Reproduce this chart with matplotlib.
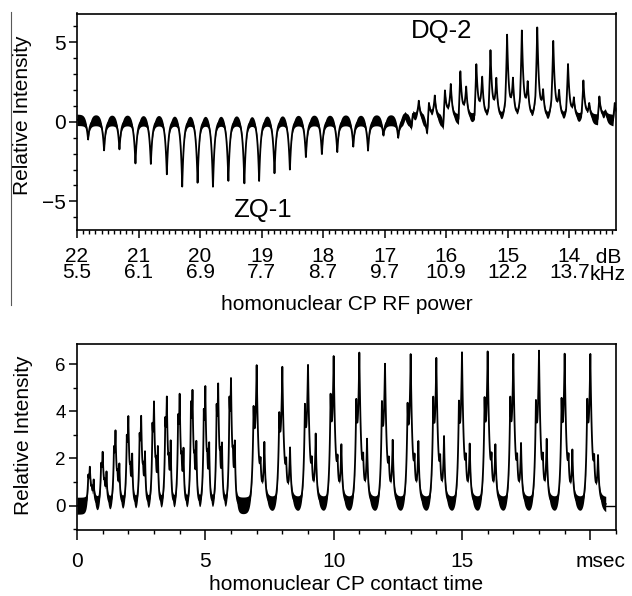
import numpy as np
import matplotlib
matplotlib.use("Agg")
import matplotlib.pyplot as plt
from matplotlib.lines import Line2D
from matplotlib.ticker import MultipleLocator, FixedLocator
from matplotlib.transforms import ScaledTranslation

plt.rcParams['font.family'] = ['Liberation Sans', 'DejaVu Sans']
plt.rcParams['path.simplify'] = False

# ---------------- data ----------------
# top panel: homonuclear CP RF power (dB), arrayed spectra
top_db_ticks = [22, 21, 20, 19, 18, 17, 16, 15, 14]
top_khz_labels = ['5.5', '6.1', '6.9', '7.7', '8.7', '9.7', '10.9', '12.2', '13.7']

zq_db = [21.82, 21.56, 21.31, 21.05, 20.80, 20.54, 20.29, 20.04, 19.79, 19.54,
         19.28, 19.04, 18.79, 18.54, 18.28, 18.02, 17.77, 17.51, 17.27, 17.02,
         16.78, 16.57, 16.31, 16.05, 15.80, 15.54, 15.31, 15.04, 14.80, 14.55,
         14.29, 14.05, 13.80, 13.54, 13.29]
zq_amp = [-1.25, -1.95, -1.9, -2.8, -2.8, -3.45, -4.2, -4.0, -4.3, -3.9,
          -4.05, -3.85, -3.4, -3.2, -2.4, -2.2, -2.05, -1.7, -1.95, -1.0,
          -1.15, -1.0, -1.45, -1.3, -1.3, -1.2, -1.0, -0.9, -0.8, -0.8,
          -0.7, -0.7, -0.6, -0.6, -0.5]

dq_db = [16.67, 16.54, 16.28, 16.02, 15.77, 15.51, 15.28, 15.01, 14.77, 14.52,
         14.26, 14.02, 13.77, 13.51, 13.26]
dq_amp = [0.4, 0.5, 1.2, 2.0, 3.25, 3.7, 4.5, 5.5, 5.8, 6.06,
          5.2, 3.65, 2.6, 1.6, 1.2]
dq_sat_amp = [0.3, 1.2, 1.5, 2.2, 2.0, 2.6, 2.45, 2.4, 2.2, 1.7,
              1.7, 1.27, 0.96, 0.5, 0.4]

# bottom panel: homonuclear CP contact time (msec)
bot_t = [0.5, 1.0, 1.5, 2.0, 2.5, 3.0, 3.5, 4.0, 4.5, 5.0, 5.5, 6.0,
         7, 8, 9, 10, 11, 12, 13, 14, 15, 16, 17, 18, 19, 20]
bot_amp = [1.67, 2.31, 3.2, 3.83, 3.86, 4.44, 4.65, 4.82, 4.94, 5.08, 5.25, 5.46,
           6.0, 5.9, 6.04, 6.36, 6.53, 6.07, 6.43, 6.33, 6.53, 6.57, 6.5, 6.57, 6.5, 6.47]
bot_shoulder = [0.8, 1.1, 1.5, 1.8, 1.9, 2.1, 2.3, 2.4, 2.9, 2.5, 2.7, 2.95,
                3.1, 2.8, 3.16, 3.53, 3.23, 3.3, 3.1, 3.4, 3.2, 3.3, 3.4, 3.2, 3.3, 3.3]
bot_sat = [0.7, 0.98, 1.25, 1.67, 1.74, 1.89, 2.17, 1.83, 2.08, 2.04, 2.04, 2.08,
           2.17, 1.93, 2.5, 2.08, 2.27, 2.25, 2.2, 2.38, 2.1, 2.04, 2.1, 2.3, 1.8, 1.6]
bot_spacing = [0.5] * 12 + [1.0] * 14
bot_trace_end = 20.6
bot_ticks = [0, 5, 10, 15, 20]
bot_tick_labels = ['0', '5', '10', '15', 'msec']


def cusp(x, x0, a, w):
    """sharp, cusp-like line shape (decays quickly, no long tails)"""
    return a * np.exp(-np.abs(x - x0) / w)


def draw_trace(ax, xs, ys, base, band):
    # noise-like dark ribbon around the baseline, fading where the signal is a peak
    wgt = band * np.exp(-np.abs(ys - base) / 0.7)
    ax.fill_between(xs, ys - wgt, ys + wgt, color='black', lw=0)
    ax.plot(xs, ys, color='black', lw=1.3)


# ---------------- figure ----------------
W, H = 632, 596
fig = plt.figure(figsize=(W / 100, H / 100), dpi=100)

def frac(x0, y0, x1, y1):
    return [x0 / W, 1 - y1 / H, (x1 - x0) / W, (y1 - y0) / H]

ax1 = fig.add_axes(frac(77, 13.5, 616, 230))
ax2 = fig.add_axes(frac(77, 344, 616, 530))

# ---- top trace ----
x = np.linspace(22, 13.24, 6000)
base1 = 0.12

def top_background(xx):
    v = np.full_like(xx, base1, dtype=float)
    for p, a in zip(zq_db, zq_amp):
        v += cusp(xx, p, a, 0.028)
    for p, s in zip(dq_db, dq_sat_amp):
        v += cusp(xx, p - 0.095, s, 0.028)
    return v

y = top_background(x)
bg_at_dq = top_background(np.array(dq_db))
for p, a, b in zip(dq_db, dq_amp, bg_at_dq):
    y += cusp(x, p, a - b, 0.03)
draw_trace(ax1, x, y, base1, 0.36)

ax1.set_xlim(22, 13.24)
ax1.set_ylim(-6.8, 6.8)
ax1.xaxis.set_major_locator(FixedLocator(top_db_ticks))
ax1.set_xticklabels([f"{d}\n{k}" for d, k in zip(top_db_ticks, top_khz_labels)],
                    linespacing=0.85)
ax1.xaxis.set_minor_locator(MultipleLocator(0.1))
ax1.yaxis.set_major_locator(FixedLocator([-5, 0, 5]))
ax1.yaxis.set_minor_locator(MultipleLocator(1))
ax1.tick_params(axis='both', which='major', labelsize=15, length=6, width=1.1, direction='out')
ax1.tick_params(axis='both', which='minor', length=2.8, width=1.0, direction='out')
ax1.tick_params(axis='x', which='major', pad=6)
ax1.tick_params(axis='y', which='major', pad=2)
ax1.set_xlabel('homonuclear CP RF power', fontsize=15, labelpad=9)
ax1.set_ylabel('Relative Intensity', fontsize=15)
ax1.yaxis.set_label_coords(-0.0835, 0.53)
ax1.text(18.98, -6.0, 'ZQ-1', fontsize=18.5, ha='center', va='baseline')
ax1.text(16.07, 5.27, 'DQ-2', fontsize=18.5, ha='center', va='baseline')
fig.text(590 / W, 1 - 280 / H, ' dB\nkHz', fontsize=15, ha='left', va='baseline',
         linespacing=0.85)

# ---- bottom trace ----
t = np.linspace(0, bot_trace_end, 10000)

def bot_background(tt):
    v = np.zeros_like(tt, dtype=float)
    for t0, a, sh, sa, sp in zip(bot_t, bot_amp, bot_shoulder, bot_sat, bot_spacing):
        f = 0.7 if sp < 1 else 1.0
        v += cusp(tt, t0 - 0.12 * sp, sh, 0.045 * f)
        v += cusp(tt, t0 + 0.3 * sp, sa, 0.04 * f)
        v += cusp(tt, t0 + 0.15 * sp, 0.18 * a, 0.035 * f)
        v += cusp(tt, t0 + 0.3 * sp, 0.45 * f, 0.16 * sp)
    return v

yb = bot_background(t)
bg_at_pk = bot_background(np.array(bot_t, dtype=float))
for t0, a, b, sp in zip(bot_t, bot_amp, bg_at_pk, bot_spacing):
    f = 0.75 if sp < 1 else 1.0
    yb += cusp(t, t0, a - b, 0.075 * f)
draw_trace(ax2, t, yb, 0.0, 0.36)
ax2.plot([bot_trace_end, 21], [0, 0], color='black', lw=1.0)

ax2.set_xlim(0, 21)
ax2.set_ylim(-1.03, 6.85)
ax2.xaxis.set_major_locator(FixedLocator(bot_ticks))
ax2.set_xticklabels(bot_tick_labels)
ax2.xaxis.set_minor_locator(MultipleLocator(1))
ax2.yaxis.set_major_locator(FixedLocator([0, 2, 4, 6]))
ax2.yaxis.set_minor_locator(MultipleLocator(1))
ax2.tick_params(axis='x', which='major', labelsize=15, length=7, width=1.1, pad=8.5)
ax2.tick_params(axis='y', which='major', labelsize=13.5, length=6, width=1.1, pad=2)
ax2.tick_params(axis='both', which='minor', length=3.2, width=1.0)
ax2.set_xlabel('homonuclear CP contact time', fontsize=15, labelpad=3)
ax2.set_ylabel('Relative Intensity', fontsize=15)
ax2.yaxis.set_label_coords(-0.0816, 0.51)
lbl = ax2.get_xticklabels()[-1]
lbl.set_transform(lbl.get_transform() + ScaledTranslation(10 / 100, 0, fig.dpi_scale_trans))

for ax in (ax1, ax2):
    for s in ax.spines.values():
        s.set_linewidth(1.2)

# stray vertical rule at the far left of the original figure
fig.add_artist(Line2D([11 / W, 11 / W], [1 - 12 / H, 1 - 305 / H], color='0.35', lw=0.8))

fig.savefig('out.png', dpi=100)
